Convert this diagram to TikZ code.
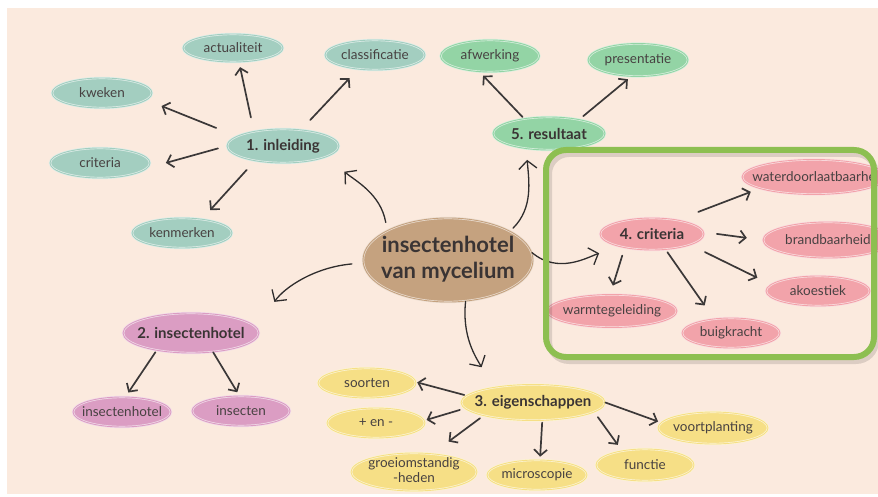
\documentclass[tikz,border=0pt]{standalone}
\usepackage{fontspec}
\setmainfont{Lato}
\usetikzlibrary{arrows.meta,shapes.geometric}

\definecolor{bgpeach}{HTML}{FBEADE}
\definecolor{tealblob}{HTML}{A3CEC0}
\definecolor{greenblob}{HTML}{93D4A5}
\definecolor{pinkblob}{HTML}{F2A3AA}
\definecolor{mauveblob}{HTML}{DB9DC3}
\definecolor{yellowblob}{HTML}{F6DF86}
\definecolor{tanblob}{HTML}{C5A27F}
\definecolor{boxgreen}{HTML}{8DBF51}
\definecolor{arrowgray}{HTML}{3B3838}
\definecolor{labelgray}{HTML}{474141}
\definecolor{topicgray}{HTML}{3A3434}

% text of zero width, so the ellipse keeps its own size
\newcommand{\lbl}[1]{\makebox[0pt]{#1}}

\tikzset{
  bubble/.style={ellipse, inner sep=0pt, fill=#1, draw=#1!35!white,
    line width=0.7pt, double=#1, double distance=0.9pt,
    text=labelgray, font=\fontsize{13.5}{15}\selectfont},
  topic/.style={bubble=#1, text=topicgray, font=\fontsize{15}{17}\selectfont\bfseries},
  link/.style={draw=arrowgray, line width=1.7pt, line cap=round,
    -{Straight Barb[length=6pt,width=13pt]}},
  curvelink/.style={draw=arrowgray!80!black, line width=1.3pt, line cap=round,
    -{Straight Barb[length=8pt,width=18pt]}}
}

\begin{document}
\begin{tikzpicture}[x=1pt,y=1pt]
	\useasboundingbox (0,0) rectangle (878,-497);
	\fill[bgpeach] (7,-8) rectangle (878,-494);
	
	% Centre
	\node[bubble=tanblob, minimum width=170, minimum height=84, text=topicgray,
	  font=\fontsize{22}{26}\selectfont\bfseries] (centre) at (448,-260)
	  {\lbl{\begin{tabular}{@{}c@{}}insectenhotel\\van mycelium\end{tabular}}};
	
	% 1. inleiding
	\node[topic=tealblob, minimum width=112, minimum height=34] (inleiding) at (283,-146) {\lbl{1. inleiding}};
	\node[bubble=tealblob, minimum width=100, minimum height=28] (actualiteit) at (233,-48) {\lbl{actualiteit}};
	\node[bubble=tealblob, minimum width=100, minimum height=30] (classificatie) at (375,-55) {\lbl{classificatie}};
	\node[bubble=tealblob, minimum width=100, minimum height=30] (kweken) at (102,-93) {\lbl{kweken}};
	\node[bubble=tealblob, minimum width=100, minimum height=30] (criteria) at (100,-163) {\lbl{criteria}};
	\node[bubble=tealblob, minimum width=100, minimum height=30] (kenmerken) at (182,-233) {\lbl{kenmerken}};
	
	\draw[link, shorten <=22pt, shorten >=16pt] (inleiding.168) -- (kweken.-9);
	\draw[link, shorten <=14pt, shorten >=5pt] (inleiding.153) -- (actualiteit.-67);
	\draw[link, shorten <=13pt, shorten >=12pt] (inleiding.42) -- (classificatie.-140);
	\draw[link, shorten <=9pt, shorten >=19pt] (inleiding.180) -- (criteria.-6);
	\draw[link, shorten <=12pt, shorten >=12pt] (inleiding.-152) -- (kenmerken.35);
	
	% 5. resultaat
	\node[topic=greenblob, minimum width=112, minimum height=33] (resultaat) at (549,-133.5) {\lbl{5. resultaat}};
	\node[bubble=greenblob, minimum width=99, minimum height=32] (afwerking) at (490,-56) {\lbl{afwerking}};
	\node[bubble=greenblob, minimum width=100, minimum height=33] (presentatie) at (638,-60) {\lbl{presentatie}};
	
	\draw[link, shorten <=2pt, shorten >=5pt] (resultaat.149) -- (afwerking.-123);
	\draw[link, shorten <=5pt, shorten >=4pt] (resultaat.25) -- (presentatie.-113);
	
	% 4. criteria
	\node[topic=pinkblob, minimum width=104, minimum height=32] (criteria4) at (652,-234) {\lbl{4. criteria}};
	\node[bubble=pinkblob, minimum width=144, minimum height=35] (water) at (814,-177) {\lbl{waterdoorlaatbaarhe}};
	\node[bubble=pinkblob, minimum width=130, minimum height=36] (brand) at (828,-240) {\lbl{brandbaarheid}};
	\node[bubble=pinkblob, minimum width=104, minimum height=30] (akoestiek) at (818,-291) {\lbl{akoestiek}};
	\node[bubble=pinkblob, minimum width=130, minimum height=33] (warmte) at (612,-311) {\lbl{warmtegeleiding}};
	\node[bubble=pinkblob, minimum width=98, minimum height=30] (buig) at (731,-333) {\lbl{buigkracht}};
	
	\draw[link, shorten <=22pt, shorten >=9pt] (criteria4.29) -- (water.-168);
	\draw[link, shorten <=13pt, shorten >=16pt] (criteria4.2) -- (brand.180);
	\draw[link, shorten <=16pt, shorten >=15pt] (criteria4.-16) -- (akoestiek.172);
	\draw[link, shorten <=3pt, shorten >=16pt] (criteria4.-49) -- (buig.140);
	\draw[link, shorten <=8pt, shorten >=9pt] (criteria4.-153) -- (warmte.96);
	
	% 2. insectenhotel
	\node[topic=mauveblob, minimum width=136, minimum height=40] (insectenhotel2) at (191,-333) {\lbl{2. insectenhotel}};
	\node[bubble=mauveblob, minimum width=98, minimum height=30] (insectenhotel) at (122,-412) {\lbl{insectenhotel}};
	\node[bubble=mauveblob, minimum width=98, minimum height=30] (insecten) at (241,-411) {\lbl{insecten}};
	
	\draw[link, shorten <=2pt, shorten >=5pt] (insectenhotel2.-153) -- (insectenhotel.77);
	\draw[link, shorten >=4pt] (insectenhotel2.-41) -- (insecten.96);
	
	% 3. eigenschappen
	\node[topic=yellowblob, minimum width=144, minimum height=36] (eigenschappen) at (533,-402.5) {\lbl{3. eigenschappen}};
	\node[bubble=yellowblob, minimum width=98, minimum height=30] (soorten) at (367,-383) {\lbl{soorten}};
	\node[bubble=yellowblob, minimum width=98, minimum height=30] (plusmin) at (376,-423) {\lbl{+ en -}};
	\node[bubble=yellowblob, minimum width=126, minimum height=38] (groei) at (414,-472)
	  {\lbl{\smash{\raisebox{-.25em}{\begin{tabular}{@{}c@{}}groeiomstandig\\-heden\end{tabular}}}}};
	\node[bubble=yellowblob, minimum width=100, minimum height=30] (microscopie) at (537,-475) {\lbl{microscopie}};
	\node[bubble=yellowblob, minimum width=98, minimum height=32] (functie) at (645,-465) {\lbl{functie}};
	\node[bubble=yellowblob, minimum width=110, minimum height=32] (voortplanting) at (713,-428) {\lbl{voortplanting}};
	
	\draw[link, shorten <=2pt, shorten >=1pt] (eigenschappen.174) -- (soorten.1);
	\draw[link, shorten <=5pt, shorten >=2pt] (eigenschappen.-175) -- (plusmin.3);
	\draw[link, shorten <=4pt, shorten >=20pt] (eigenschappen.-165) -- (groei.45);
	\draw[link, shorten <=2pt, shorten >=3pt] (eigenschappen.-63) -- (microscopie.79);
	\draw[link, shorten <=6pt, shorten >=7pt] (eigenschappen.-9) -- (functie.148);
	\draw[link, shorten >=3pt] (eigenschappen.0) -- (voortplanting.174);
	
	% Curved arrows out of the centre
	\draw[curvelink, shorten <=8pt, shorten >=23pt] (centre.154) to[out=100, in=-40] (inleiding.-14);
	\draw[curvelink, shorten <=4pt, shorten >=11pt] (centre.25) to[out=45, in=-85] (resultaat.-146);
	\draw[curvelink, shorten >=20pt] (centre.5) to[out=-40, in=200] (criteria4.-160);
	\draw[curvelink, shorten <=11pt, shorten >=31pt] (centre.-178) to[out=185, in=55] (insectenhotel2.5);
	\draw[curvelink, shorten >=23pt] (centre.-67) to[out=-96, in=120] (eigenschappen.159);
	
	% Frame round 4. criteria
	\draw[black, opacity=0.12, line width=6pt, rounded corners=20pt] (549,-154) rectangle (876,-361);
	\draw[boxgreen, line width=6pt, rounded corners=20pt] (546,-150) rectangle (874,-357);
\end{tikzpicture}
\end{document}
